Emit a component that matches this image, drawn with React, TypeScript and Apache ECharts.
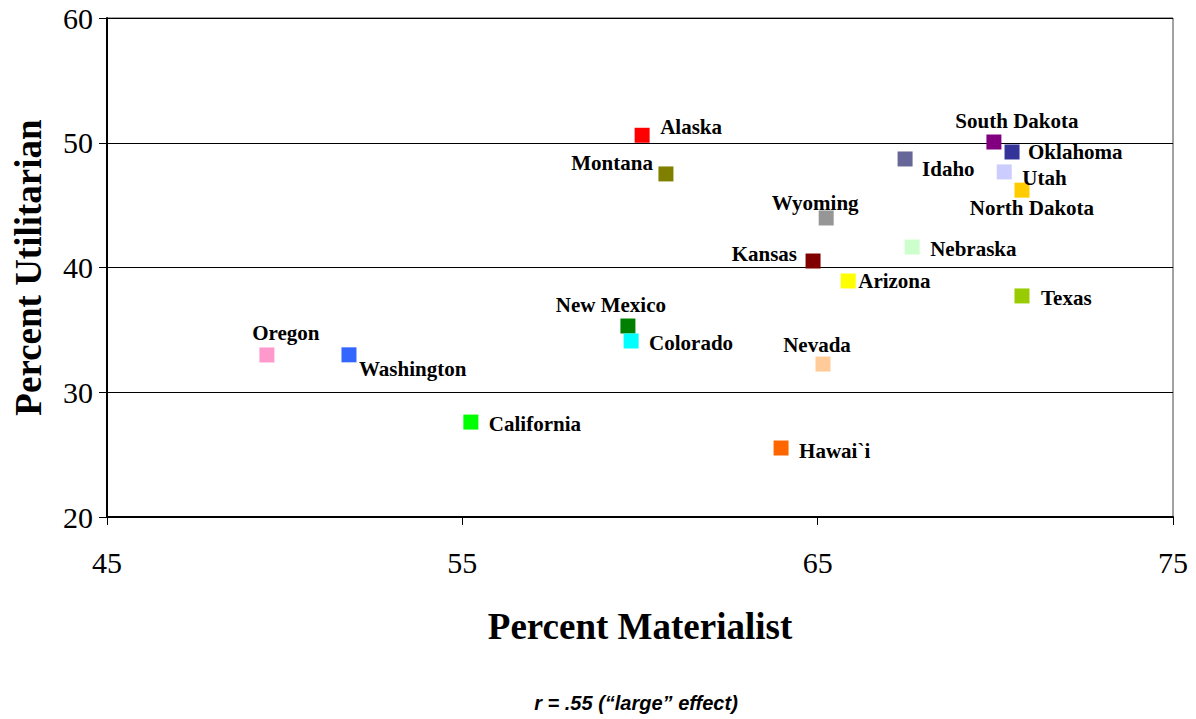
import React, { useEffect, useRef } from "react";
import * as echarts from "echarts";

const states = [
  "Alaska", "Montana", "South Dakota", "Oklahoma", "Idaho", "Utah", "North Dakota",
  "Wyoming", "Nebraska", "Kansas", "Arizona", "Texas", "New Mexico", "Colorado",
  "Oregon", "Washington", "Nevada", "California", "Hawai`i",
];
const materialist = [
  60.06, 60.73, 69.96, 70.47, 67.46, 70.25, 70.75,
  65.24, 67.66, 64.87, 65.86, 70.75, 59.66, 59.75,
  49.5, 51.81, 65.15, 55.24, 63.97,
];
const utilitarian = [
  50.6, 47.5, 50.06, 49.26, 48.7, 47.66, 46.2,
  43.97, 41.64, 40.52, 38.92, 37.72, 35.31, 34.11,
  32.99, 33.0, 32.26, 27.61, 25.53,
];
const colors = [
  "#FF0000", "#808000", "#800080", "#333399", "#666699", "#CCCCFF", "#FFCC00",
  "#969696", "#CCFFCC", "#800000", "#FFFF00", "#99CC00", "#008000", "#00FFFF",
  "#FF99CC", "#3366FF", "#FFCC99", "#00FF00", "#FF6600",
];
const xTicks = [45, 55, 65, 75];
const yTicks = [20, 30, 40, 50, 60];

// label placement: [align, dx, dy] relative to marker centre
const labelPlace: Record<string, [string, number, number]> = {
  "Alaska": ["left", 18, -8],
  "Montana": ["right", -13, -11],
  "South Dakota": ["center", 23, -21],
  "Oklahoma": ["left", 16, 0],
  "Idaho": ["left", 17, 10],
  "Utah": ["left", 18, 6],
  "North Dakota": ["center", 10, 18],
  "Wyoming": ["center", -11, -15],
  "Nebraska": ["left", 18, 2],
  "Kansas": ["right", -16, -7],
  "Arizona": ["left", 10, 0],
  "Texas": ["left", 19, 2],
  "New Mexico": ["center", -17, -21],
  "Colorado": ["left", 18, 2],
  "Oregon": ["center", 19, -22],
  "Washington": ["left", 10, 14],
  "Nevada": ["center", -6, -19],
  "California": ["left", 18, 2],
  "Hawai`i": ["left", 18, 3],
};

const serif = "'Liberation Serif', 'Times New Roman', serif";

export default function App() {
  const ref = useRef<HTMLDivElement>(null);
  useEffect(() => {
    if (!ref.current) return;
    const chart = echarts.init(ref.current, undefined, { renderer: "svg" });
    const data = states.map((s, i) => {
      const [align, dx, dy] = labelPlace[s];
      return {
        name: s,
        value: [materialist[i], utilitarian[i]],
        itemStyle: { color: colors[i] },
        label: { align, offset: [dx, dy] },
      };
    });
    chart.setOption({
      animation: false,
      backgroundColor: "#fff",
      grid: {
        left: 107, right: 23, top: 18, bottom: 202,
        containLabel: false,
        outerBoundsMode: "none",
        show: true, borderColor: "#444", borderWidth: 1, backgroundColor: "transparent",
      },
      xAxis: {
        type: "value", min: 45, max: 75, interval: 10,
        axisLine: { show: true, lineStyle: { color: "#000", width: 2 } },
        axisTick: { show: true, inside: false, length: 8, lineStyle: { color: "#000", width: 1 } },
        axisLabel: {
          margin: 30, fontFamily: serif, fontSize: 30, color: "#000",
          formatter: (v: number) => (xTicks.includes(v) ? String(v) : ""),
        },
        splitLine: { show: false },
        name: "Percent Materialist", nameLocation: "middle", nameGap: 91,
        nameTextStyle: { fontFamily: serif, fontSize: 37, fontWeight: "bold", color: "#000" },
      },
      yAxis: {
        type: "value", min: 20, max: 60, interval: 10,
        axisLine: { show: true, lineStyle: { color: "#000", width: 2 } },
        axisTick: { show: true, inside: false, length: 8, lineStyle: { color: "#000", width: 1 } },
        axisLabel: {
          margin: 14, fontFamily: serif, fontSize: 30, color: "#000",
          formatter: (v: number) => (yTicks.includes(v) ? String(v) : ""),
        },
        splitLine: { show: true, lineStyle: { color: "#000", width: 1 } },
        name: "Percent Utilitarian", nameLocation: "middle", nameGap: 60, nameRotate: 90,
        nameTextStyle: { fontFamily: serif, fontSize: 37, fontWeight: "bold", color: "#000" },
      },
      graphic: [
        {
          type: "text", x: 636, y: 703,
          style: {
            text: "r = .55 (\u201Clarge\u201D effect)",
            font: "italic bold 20px 'Liberation Sans', Arial, sans-serif",
            fill: "#000",
            textAlign: "center",
            textVerticalAlign: "middle",
          },
        },
      ],
      series: [
        {
          type: "scatter",
          symbol: "rect",
          symbolSize: 15,
          data,
          label: {
            show: true,
            position: "inside",
            verticalAlign: "middle",
            formatter: "{b}",
            fontFamily: serif,
            fontSize: 21,
            lineHeight: 17,
            fontWeight: "bold",
            color: "#000",
          },
          itemStyle: { opacity: 1 },
        },
      ],
    });
    return () => chart.dispose();
  }, []);
  return <div ref={ref} style={{ width: 1196, height: 719, position: "absolute", left: 0, top: 0 }} />;
}
